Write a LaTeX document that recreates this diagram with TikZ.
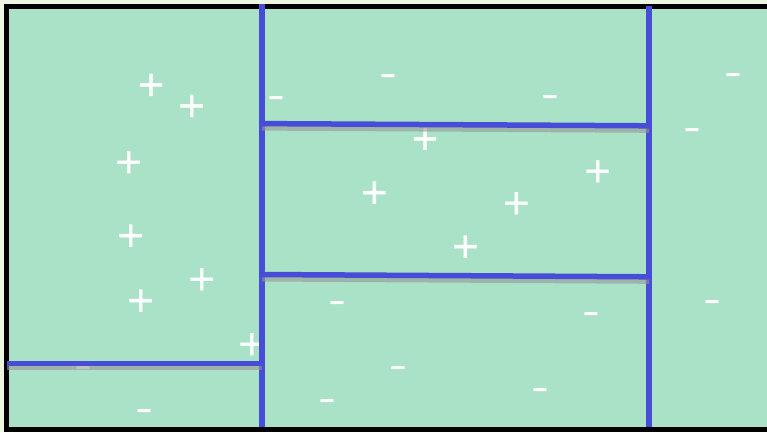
\documentclass[tikz,border=0pt]{standalone}
\usepackage{fontspec}
\newfontfamily\signfont{DejaVu Sans}
\newfontfamily\plusfont{DejaVu Sans}[FakeBold=1.5]
\definecolor{cream}{RGB}{238,245,225}
\definecolor{mint}{RGB}{170,226,200}
\definecolor{divblue}{RGB}{72,77,216}
\definecolor{shadowgray}{RGB}{150,150,150}
\tikzset{
  plussign/.style={text=white, inner sep=0pt, anchor=base, yshift=-10.9pt, font=\plusfont\fontsize{35}{35}\selectfont},
  minussign/.style={text=white, inner sep=0pt, anchor=base, yshift=-10.7pt, font=\signfont\fontsize{38}{38}\selectfont},
  divider/.style={draw=divblue, line width=5.5pt},
  dshadow/.style={draw=shadowgray, draw opacity=0.6, line width=5pt},
  frameline/.style={draw=black, line width=5.5pt},
}
\newcommand{\minusglyph}{\scalebox{1.3}[1]{-}}
\begin{document}
\begin{tikzpicture}[x=1pt,y=-1pt]
\useasboundingbox (0,0) rectangle (767,432);
\fill[cream] (0,0) rectangle (767,432);
\fill[mint] (6,6) rectangle (767,429);
% frame
\draw[frameline] (6.7,6.7) rectangle (769.5,429.4);
% plus signs
\node[plussign] (p1) at (151,85) {+};
\node[plussign] (p2) at (191.7,106) {+};
\node[plussign] (p3) at (128.7,162.3) {+};
\node[plussign] (p4) at (130.7,235.7) {+};
\node[plussign] (p5) at (201.7,279.3) {+};
\node[plussign] (p6) at (140.7,300.7) {+};
\node[plussign] (p7) at (251.7,344.3) {+};
\node[plussign] (p8) at (425,139) {+};
\node[plussign] (p9) at (374.3,192.7) {+};
\node[plussign] (p10) at (516.3,203.3) {+};
\node[plussign] (p11) at (597.7,171.3) {+};
\node[plussign] (p12) at (465.3,246.7) {+};
% minus signs
\node[minussign] (m1) at (388.3,76) {\minusglyph};
\node[minussign] (m2) at (276.7,97.7) {\minusglyph};
\node[minussign] (m3) at (550,97) {\minusglyph};
\node[minussign] (m4) at (733,75) {\minusglyph};
\node[minussign] (m5) at (692,130) {\minusglyph};
\node[minussign] (m6) at (712,302) {\minusglyph};
\node[minussign] (m7) at (337.3,303) {\minusglyph};
\node[minussign] (m8) at (591,314) {\minusglyph};
\node[minussign] (m9) at (398.3,367.7) {\minusglyph};
\node[minussign] (m10) at (540.3,389.3) {\minusglyph};
\node[minussign] (m11) at (327,400.3) {\minusglyph};
\node[minussign] (m12) at (144.7,410.7) {\minusglyph};
\node[minussign] (m13) at (83.5,367.5) {\minusglyph};
% line end points
\coordinate (v1t) at (262,4);
\coordinate (v1b) at (262,426.5);
\coordinate (v2t) at (649,6);
\coordinate (v2b) at (649,426.5);
\coordinate (h1l) at (7,363.3);
\coordinate (h1r) at (262,363.3);
\coordinate (h2l) at (262,123.6);
\coordinate (h2r) at (649,125.8);
\coordinate (h3l) at (262,274.5);
\coordinate (h3r) at (649,276.8);
% vertical dividers
\draw[divider] (v1t) -- (v1b);
\draw[divider] (v2t) -- (v2b);
% shadows of horizontal dividers
\draw[dshadow] ([yshift=-4.5pt]h1l) -- ([yshift=-4.5pt]h1r);
\draw[dshadow] ([yshift=-4.5pt]h2l) -- ([yshift=-4.5pt]h2r);
\draw[dshadow] ([yshift=-4.5pt]h3l) -- ([yshift=-4.5pt]h3r);
% horizontal dividers
\draw[divider] (h1l) -- (h1r);
\draw[divider] (h2l) -- (h2r);
\draw[divider] (h3l) -- (h3r);
\end{tikzpicture}
\end{document}
